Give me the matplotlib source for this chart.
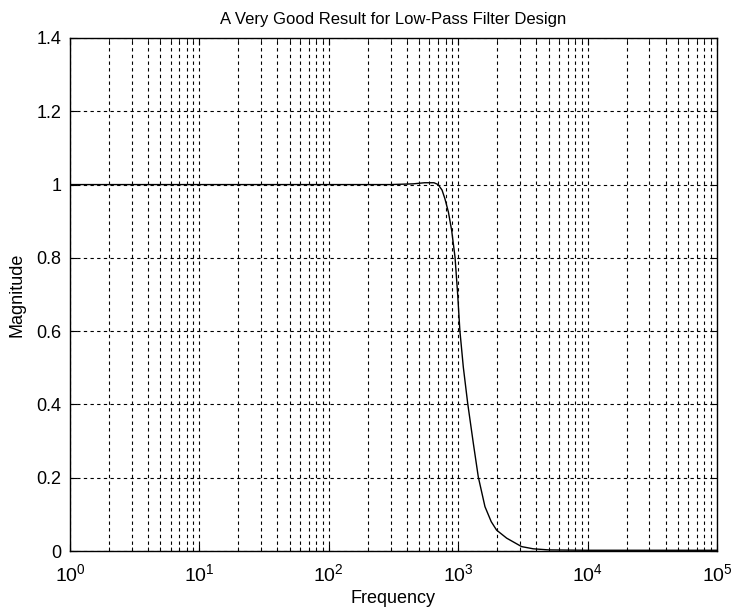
import matplotlib
matplotlib.use("Agg")
import matplotlib.pyplot as plt
from matplotlib.ticker import LogLocator, FuncFormatter, NullFormatter

plt.rcParams['font.family'] = ['Liberation Sans', 'DejaVu Sans']
plt.rcParams['mathtext.fontset'] = 'custom'
plt.rcParams['mathtext.rm'] = 'Liberation Sans'

freq = [1, 10, 100, 300, 450, 550, 650, 700, 750, 790, 840, 890, 945, 990,
        1030, 1095, 1185, 1310, 1430, 1610, 1800, 1980, 2370, 3090, 3800,
        5000, 10000, 30000, 100000]
magnitude = [1.0, 1.0, 1.0, 1.0, 1.002, 1.005, 1.005, 1.0, 0.985, 0.961, 0.925,
             0.875, 0.802, 0.702, 0.602, 0.502, 0.402, 0.293, 0.202, 0.121,
             0.08, 0.057, 0.035, 0.012, 0.006, 0.003, 0.002, 0.002, 0.002]

title = "A Very Good Result for Low-Pass Filter Design"
xlabel = "Frequency"
ylabel = "Magnitude"
yticks = [0, 0.2, 0.4, 0.6, 0.8, 1, 1.2, 1.4]

fig = plt.figure(figsize=(7.35, 6.14), dpi=100)
ax = fig.add_axes([70/735, 63/614, 647/735, 513/614])

ax.plot(freq, magnitude, color='black', linewidth=1.0)
ax.set_xscale('log')
ax.set_xlim(1, 1e5)
ax.set_ylim(0, 1.4)
ax.set_yticks(yticks)
ax.yaxis.set_major_formatter(FuncFormatter(lambda v, p: f"{v:g}"))
ax.xaxis.set_major_locator(LogLocator(base=10, numticks=10))
ax.xaxis.set_minor_locator(LogLocator(base=10, subs=range(2, 10), numticks=20))
ax.xaxis.set_minor_formatter(NullFormatter())

dash = (0, (3, 3))
ax.grid(True, which='major', axis='both', color='black', linestyle=dash, linewidth=0.8)
ax.grid(True, which='minor', axis='x', color='black', linestyle=dash, linewidth=0.8)

ax.tick_params(axis='both', which='both', direction='in', top=True, right=True,
               colors='black')
ax.tick_params(axis='y', labelsize=13, pad=6)
ax.tick_params(axis='x', labelsize=14, pad=9)
ax.tick_params(which='major', length=5)
ax.tick_params(which='minor', length=3)
for s in ax.spines.values():
    s.set_linewidth(1.0)
    s.set_color('black')

ax.set_title(title, fontsize=12, pad=10)
ax.set_xlabel(xlabel, fontsize=13, labelpad=3)
ax.set_ylabel(ylabel, fontsize=13, labelpad=8)

fig.savefig("out.png", dpi=100)
